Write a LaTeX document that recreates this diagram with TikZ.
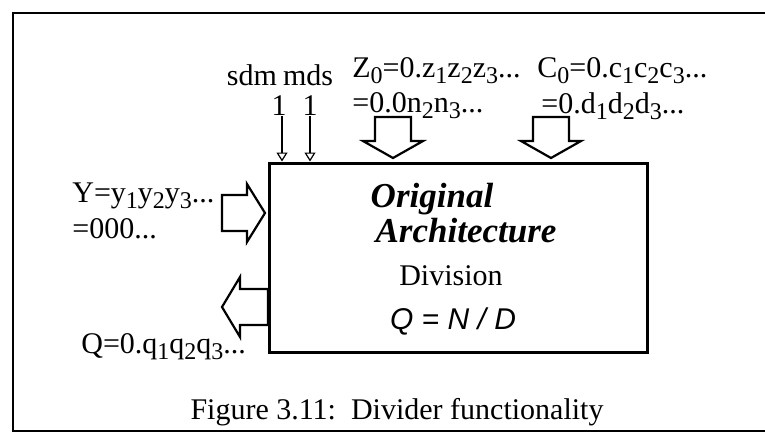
\documentclass[tikz,border=0pt]{standalone}
\usepackage{fontspec}
\setmainfont{Liberation Serif}
\newfontfamily\eqfont{Liberation Sans}
\usetikzlibrary{arrows.meta}

\tikzset{
  lbl/.style={inner sep=0pt, font=\fontsize{15}{17}\selectfont},
  titl/.style={inner sep=0pt, font=\fontsize{17.5}{19}\selectfont\bfseries\itshape},
  fat/.style={line width=1.1pt, line join=miter},
  sig/.style={line width=0.6pt, -{Triangle[open,length=4.5pt,width=5.5pt]}},
}
% large subscript, as in the drawing
\newcommand{\lo}[1]{\raisebox{-0.2em}{\fontsize{12}{13}\selectfont #1}}
% fat hollow arrows, drawn from the tip
\newcommand{\fatdown}[2]{\draw[fat] (#1) -- ++(-30,-17) -- ++(12,0) -- ++(0,-#2) -- ++(36,0) -- ++(0,#2) -- ++(12,0) -- cycle;}
\newcommand{\fatright}[2]{\draw[fat] (#1) -- ++(-18,-29) -- ++(0,11) -- ++(-#2,0) -- ++(0,36) -- ++(#2,0) -- ++(0,11) -- cycle;}
\newcommand{\fatleft}[2]{\draw[fat] (#1) -- ++(18,-30) -- ++(0,12) -- ++(#2,0) -- ++(0,36) -- ++(-#2,0) -- ++(0,12) -- cycle;}

\begin{document}
\begin{tikzpicture}[x=0.5pt,y=-0.5pt]
  \useasboundingbox (0,0) rectangle (765,434);
  % frame
  \draw[line width=1pt] (765,13) -- (13,13) -- (13,431) -- (765,431);

  % the divider
  \node[draw, line width=1.5pt, minimum width=189pt, minimum height=94.5pt] (box) at (458,257.5) {};
  \node[titl] (orig) at (432,199) {Original};
  \node[titl] (arch) at (466,231) {Architecture};
  \node[lbl] (div) at (451,276) {Division};
  \node[lbl, font=\fontsize{15}{17}\selectfont\eqfont\itshape] (eq) at (453,321) {Q = N / D};

  % control bits
  \node[lbl] (sdm) at (252,75) {sdm};
  \node[lbl] (mds) at (308,75) {mds};
  \node[lbl] (sdm1) at (279,106) {1};
  \node[lbl] (mds1) at (310,106) {1};
  \draw[sig] ([xshift=1.5pt]sdm1.south) -- ([xshift=1.5pt]sdm1.south |- box.north);
  \draw[sig] (mds1.south) -- (mds1.south |- box.north);

  % operands
  \node[lbl, anchor=west] (z0) at (352,71) {Z\lo{0}=0.z\lo{1}z\lo{2}z\lo{3}...};
  \node[lbl, anchor=west] (n0) at (352,106) {=0.0n\lo{2}n\lo{3}...};
  \node[lbl, anchor=west] (c0) at (537,71) {C\lo{0}=0.c\lo{1}c\lo{2}c\lo{3}...};
  \node[lbl, anchor=west] (d0) at (541,106) {=0.d\lo{1}d\lo{2}d\lo{3}...};
  \coordinate (ztip) at (393,158);
  \coordinate (ctip) at (551,158);
  \fatdown{ztip}{24}
  \fatdown{ctip}{24}

  \node[lbl, anchor=west] (y0) at (72,196) {Y=y\lo{1}y\lo{2}y\lo{3}...};
  \node[lbl, anchor=west] (y1) at (72,229) {=000...};
  \coordinate (ytip) at (265,213);
  \fatright{ytip}{25}

  % result
  \coordinate (qtip) at (222,307);
  \fatleft{qtip}{28}
  \node[lbl, anchor=west] (q0) at (81,347) {Q=0.q\lo{1}q\lo{2}q\lo{3}...};

  \node[lbl] (cap) at (397,412) {Figure 3.11:\ \ Divider functionality};
\end{tikzpicture}
\end{document}
